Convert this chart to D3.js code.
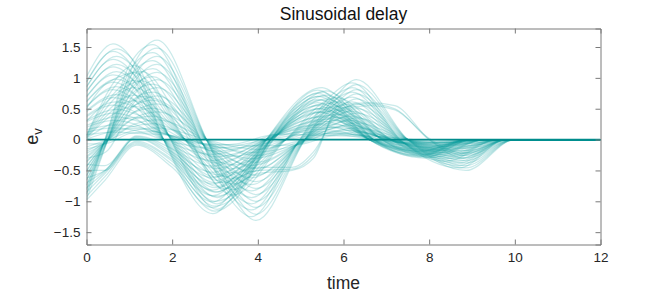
<!DOCTYPE html>
<html><head><meta charset="utf-8">
<script src="https://cdn.jsdelivr.net/npm/d3@7"></script>
<style>
html,body{margin:0;padding:0;background:#fff;}
svg{display:block;font-family:"Liberation Sans",Arial,Helvetica,sans-serif;}
</style></head>
<body>
<svg id="chart" width="664" height="294"></svg>
<script>
// ---- data ----
const xTicks = [0, 2, 4, 6, 8, 10, 12];
const yTicks = [-1.5, -1, -0.5, 0, 0.5, 1, 1.5];
const xDomain = [0, 12];
const yDomain = [-1.7, 1.8];

// family A: early peak (~0.62), nested arcs
const timesA = [0, 0.62, 1.12, 1.8, 2.95, 3.42, 4.2, 5.5, 5.84, 6.7, 7.9, 9.0, 12];
const seriesA = [
  [1.02, 1.55, 1.24, 0, -1.2, -0.92, 0, 0.84, 0.72, 0, -0.3, 0, 0],
  [0.94, 1.43, 1.14, 0, -1.10, -0.85, 0, 0.77, 0.66, 0, -0.28, 0, 0],
  [0.86, 1.30, 1.04, 0, -1.01, -0.77, 0, 0.71, 0.60, 0, -0.25, 0, 0],
  [0.78, 1.18, 0.94, 0, -0.91, -0.70, 0, 0.64, 0.55, 0, -0.23, 0, 0],
  [0.69, 1.05, 0.84, 0, -0.82, -0.63, 0, 0.57, 0.49, 0, -0.20, 0, 0],
  [0.61, 0.93, 0.74, 0, -0.72, -0.55, 0, 0.50, 0.43, 0, -0.18, 0, 0],
  [0.53, 0.81, 0.64, 0, -0.62, -0.48, 0, 0.44, 0.37, 0, -0.16, 0, 0],
  [0.45, 0.68, 0.55, 0, -0.53, -0.40, 0, 0.37, 0.32, 0, -0.13, 0, 0],
  [0.37, 0.56, 0.45, 0, -0.43, -0.33, 0, 0.30, 0.26, 0, -0.11, 0, 0],
  [0.29, 0.43, 0.35, 0, -0.34, -0.26, 0, 0.24, 0.20, 0, -0.08, 0, 0],
  [0.20, 0.31, 0.25, 0, -0.24, -0.18, 0, 0.17, 0.14, 0, -0.06, 0, 0],
  [0.12, 0.19, 0.15, 0, -0.14, -0.11, 0, 0.10, 0.09, 0, -0.04, 0, 0]
];

// family A2: slightly later phase than A
const timesA2 = [0, 0.7, 1.2, 1.95, 3.05, 3.5, 4.4, 5.6, 5.95, 6.85, 8.1, 9.3, 12];
const seriesA2 = [
  [0.93, 1.47, 1.19, 0.02, -1.13, -0.88, 0.03, 0.79, 0.68, 0.02, -0.29, 0, 0],
  [0.85, 1.35, 1.09, 0.02, -1.04, -0.81, 0.03, 0.72, 0.62, 0.02, -0.26, 0, 0],
  [0.78, 1.22, 0.99, 0.03, -0.94, -0.74, 0.04, 0.66, 0.57, 0.02, -0.24, 0, 0],
  [0.70, 1.10, 0.89, 0.03, -0.85, -0.66, 0.04, 0.59, 0.51, 0.03, -0.22, 0, 0],
  [0.62, 0.98, 0.79, 0.04, -0.76, -0.59, 0.05, 0.52, 0.45, 0.03, -0.19, 0, 0],
  [0.54, 0.86, 0.69, 0.04, -0.66, -0.52, 0.05, 0.46, 0.40, 0.03, -0.17, 0, 0],
  [0.47, 0.73, 0.60, 0.05, -0.57, -0.44, 0.06, 0.39, 0.34, 0.04, -0.14, 0, 0],
  [0.39, 0.61, 0.50, 0.05, -0.47, -0.37, 0.06, 0.33, 0.28, 0.04, -0.12, 0, 0],
  [0.31, 0.49, 0.40, 0.06, -0.38, -0.29, 0.07, 0.26, 0.23, 0.04, -0.10, 0, 0],
  [0.23, 0.37, 0.30, 0.06, -0.28, -0.22, 0.07, 0.20, 0.17, 0.05, -0.07, 0, 0],
  [0.16, 0.24, 0.20, 0.07, -0.19, -0.15, 0.08, 0.13, 0.11, 0.05, -0.05, 0, 0],
  [0.08, 0.12, 0.10, 0.07, -0.09, -0.07, 0.08, 0.07, 0.06, 0.05, -0.02, 0, 0]
];

// family B: late peak (~1.65)
const timesB = [0, 0.5, 1.12, 1.65, 2.8, 3.42, 3.96, 5.1, 5.84, 6.3, 7.5, 8.86, 10.0, 12];
const seriesB = [
  [-0.97, 0, 1.24, 1.61, 0, -0.92, -1.31, 0, 0.72, 0.97, 0, -0.5, 0, 0],
  [-0.89, 0, 1.14, 1.48, 0, -0.85, -1.21, 0, 0.66, 0.89, 0, -0.46, 0, 0],
  [-0.81, 0, 1.04, 1.35, 0, -0.77, -1.10, 0, 0.60, 0.81, 0, -0.42, 0, 0],
  [-0.74, 0, 0.94, 1.22, 0, -0.70, -1.00, 0, 0.55, 0.74, 0, -0.38, 0, 0],
  [-0.66, 0, 0.84, 1.09, 0, -0.63, -0.89, 0, 0.49, 0.66, 0, -0.34, 0, 0],
  [-0.58, 0, 0.74, 0.97, 0, -0.55, -0.79, 0, 0.43, 0.58, 0, -0.30, 0, 0],
  [-0.50, 0, 0.64, 0.84, 0, -0.48, -0.68, 0, 0.37, 0.50, 0, -0.26, 0, 0],
  [-0.43, 0, 0.55, 0.71, 0, -0.40, -0.58, 0, 0.32, 0.43, 0, -0.22, 0, 0],
  [-0.35, 0, 0.45, 0.58, 0, -0.33, -0.47, 0, 0.26, 0.35, 0, -0.18, 0, 0],
  [-0.27, 0, 0.35, 0.45, 0, -0.26, -0.37, 0, 0.20, 0.27, 0, -0.14, 0, 0],
  [-0.19, 0, 0.25, 0.32, 0, -0.18, -0.26, 0, 0.14, 0.19, 0, -0.10, 0, 0],
  [-0.12, 0, 0.15, 0.19, 0, -0.11, -0.16, 0, 0.09, 0.12, 0, -0.06, 0, 0]
];

// family B2: slightly earlier phase than B
const timesB2 = [0, 0.42, 1.02, 1.55, 2.68, 3.3, 3.85, 4.95, 5.72, 6.2, 7.35, 8.7, 9.8, 12];
const seriesB2 = [
  [-0.88, -0.02, 1.23, 1.54, -0.02, -0.91, -1.25, -0.03, 0.72, 0.92, -0.02, -0.46, 0, 0],
  [-0.81, -0.02, 1.13, 1.41, -0.02, -0.84, -1.14, -0.03, 0.66, 0.84, -0.02, -0.42, 0, 0],
  [-0.74, -0.03, 1.02, 1.28, -0.03, -0.76, -1.04, -0.04, 0.60, 0.77, -0.03, -0.38, 0, 0],
  [-0.66, -0.03, 0.92, 1.15, -0.03, -0.68, -0.94, -0.04, 0.54, 0.69, -0.03, -0.35, 0, 0],
  [-0.59, -0.04, 0.82, 1.02, -0.04, -0.61, -0.83, -0.05, 0.48, 0.61, -0.03, -0.31, 0, 0],
  [-0.52, -0.04, 0.72, 0.90, -0.04, -0.53, -0.73, -0.05, 0.42, 0.54, -0.04, -0.27, 0, 0],
  [-0.44, -0.05, 0.61, 0.77, -0.05, -0.46, -0.62, -0.06, 0.36, 0.46, -0.04, -0.23, 0, 0],
  [-0.37, -0.05, 0.51, 0.64, -0.05, -0.38, -0.52, -0.06, 0.30, 0.38, -0.04, -0.19, 0, 0],
  [-0.29, -0.06, 0.41, 0.51, -0.06, -0.30, -0.42, -0.07, 0.24, 0.31, -0.05, -0.15, 0, 0],
  [-0.22, -0.06, 0.31, 0.38, -0.06, -0.23, -0.31, -0.07, 0.18, 0.23, -0.05, -0.12, 0, 0],
  [-0.15, -0.07, 0.20, 0.26, -0.07, -0.15, -0.21, -0.08, 0.12, 0.15, -0.05, -0.08, 0, 0],
  [-0.07, -0.07, 0.10, 0.13, -0.07, -0.08, -0.10, -0.08, 0.06, 0.08, -0.05, -0.04, 0, 0]
];

// family M: intermediate phase (peaks at the crossing points)
const timesM = [0, 1.12, 2.3, 3.42, 4.65, 5.84, 7.1, 8.4, 9.6, 12];
const seriesM = [
  [0.07, 1.2, 0, -0.9, 0, 0.68, 0, -0.35, 0, 0],
  [0.07, 1.08, 0, -0.81, 0, 0.61, 0, -0.31, 0, 0],
  [0.06, 0.96, 0, -0.72, 0, 0.54, 0, -0.28, 0, 0],
  [0.05, 0.84, 0, -0.63, 0, 0.48, 0, -0.25, 0, 0],
  [0.04, 0.72, 0, -0.54, 0, 0.41, 0, -0.21, 0, 0],
  [0.03, 0.63, 0, -0.47, 0, 0.36, 0, -0.18, 0, 0],
  [0.03, 0.54, 0, -0.41, 0, 0.31, 0, -0.16, 0, 0],
  [0.02, 0.36, 0, -0.27, 0, 0.20, 0, -0.10, 0, 0],
  [0.01, 0.18, 0, -0.14, 0, 0.10, 0, -0.05, 0, 0]
];

// family E: lower-left curves rising slowly from a negative start
const timesE = [0, 0.43, 1.17, 2.0, 3.0, 3.5, 4.3, 5.4, 6.6, 7.8, 8.9, 12];
const seriesE = [
  [-0.98, -0.66, -0.09, -0.45, -1.16, -0.95, 0, 0.80, 0, -0.28, 0, 0],
  [-0.92, -0.60, -0.07, -0.40, -1.08, -0.90, 0, 0.75, 0, -0.26, 0, 0],
  [-0.85, -0.55, -0.05, -0.35, -1.00, -0.85, 0, 0.70, 0, -0.25, 0, 0],
  [-0.78, -0.52, -0.03, -0.32, -0.92, -0.78, 0, 0.65, 0, -0.22, 0, 0],
  [-0.70, -0.50, 0.02, -0.28, -0.85, -0.70, 0, 0.60, 0, -0.20, 0, 0],
  [-0.62, -0.50, 0.03, -0.24, -0.78, -0.65, 0, 0.55, 0, -0.19, 0, 0],
  [-0.50, -0.50, 0.05, -0.20, -0.70, -0.60, 0, 0.50, 0, -0.18, 0, 0],
  [-0.40, -0.42, 0.06, -0.15, -0.60, -0.50, 0, 0.45, 0, -0.15, 0, 0]
];

// family P: curves with a low band (~-0.5) then a plateau (~0.6)
const timesP = [0, 0.45, 1.3, 2.2, 3.2, 4.0, 4.8, 5.3, 5.9, 6.6, 7.2, 8.0, 8.8, 9.8, 12];
const seriesP = [
  [0.50, 0.90, 1.10, 0.30, -0.80, -0.55, -0.50, -0.30, 0.55, 0.60, 0.55, 0, -0.30, 0, 0],
  [0.30, 0.60, 0.95, 0.20, -0.70, -0.50, -0.48, -0.25, 0.50, 0.58, 0.50, 0, -0.25, 0, 0],
  [-0.30, -0.20, 0.70, 0.40, -0.60, -0.45, -0.45, -0.20, 0.45, 0.55, 0.48, 0.02, -0.22, 0, 0]
];

// flat zero response
const timesZ = [0, 12];
const seriesZ = [[0, 0]];

// ---- drawing ----
const L = 86.5, R = 600.5, T = 28.5, B = 244.5;
const svg = d3.select("#chart");
const x = d3.scaleLinear().domain(xDomain).range([L, R]);
const y = d3.scaleLinear().domain(yDomain).range([B, T]);

svg.append("defs").append("clipPath").attr("id", "clip")
  .append("rect").attr("x", L).attr("y", T).attr("width", R - L).attr("height", B - T);

const line = d3.line().x(d => x(d[0])).y(d => y(d[1])).curve(d3.curveMonotoneX);
const plot = svg.append("g").attr("clip-path", "url(#clip)");

function drawFamily(times, series) {
  series.forEach(vals => {
    plot.append("path")
      .attr("d", line(d3.zip(times, vals)))
      .attr("fill", "none")
      .attr("stroke", "rgb(15,158,158)")
      .attr("stroke-opacity", 0.22)
      .attr("stroke-width", 1.25);
  });
}
drawFamily(timesA, seriesA);
drawFamily(timesA2, seriesA2);
drawFamily(timesB, seriesB);
drawFamily(timesB2, seriesB2);
drawFamily(timesM, seriesM);
drawFamily(timesE, seriesE);
drawFamily(timesP, seriesP);

seriesZ.forEach(vals => {
  plot.append("path")
    .attr("d", line(d3.zip(timesZ, vals)))
    .attr("fill", "none")
    .attr("stroke", "rgb(0,140,140)")
    .attr("stroke-width", 1.6);
});

// axes (box with inward ticks on all sides)
const axisColor = "#7a7a7a";
const tickLen = 5;
const tickFont = 13.5;
const axes = svg.append("g");

const gBottom = axes.append("g").attr("transform", `translate(0,${B})`)
  .call(d3.axisBottom(x).tickValues(xTicks).tickSize(-tickLen).tickPadding(8).tickFormat(d3.format("d")));
const gTop = axes.append("g").attr("transform", `translate(0,${T})`)
  .call(d3.axisTop(x).tickValues(xTicks).tickSize(-tickLen).tickFormat(""));
const gLeft = axes.append("g").attr("transform", `translate(${L},0)`)
  .call(d3.axisLeft(y).tickValues(yTicks).tickSize(-tickLen).tickPadding(6).tickFormat(d => d3.format("")(d)));
const gRight = axes.append("g").attr("transform", `translate(${R},0)`)
  .call(d3.axisRight(y).tickValues(yTicks).tickSize(-tickLen).tickFormat(""));

[gBottom, gTop, gLeft, gRight].forEach(g => {
  g.select(".domain").attr("stroke", axisColor).attr("stroke-width", 1);
  g.selectAll(".tick line").attr("stroke", axisColor).attr("stroke-width", 1);
  g.selectAll(".tick text").attr("fill", "#262626").attr("font-size", tickFont)
    .attr("font-family", "'Liberation Sans', Arial, sans-serif");
});
[gBottom, gTop].forEach(g => g.selectAll(".tick").filter(d => d === 0 || d === 12).select("line").remove());

// title and labels
svg.append("text").attr("x", (L + R) / 2).attr("y", 20).attr("text-anchor", "middle")
  .attr("font-size", 17.5).attr("fill", "#111").text("Sinusoidal delay");
svg.append("text").attr("x", (L + R) / 2).attr("y", 289).attr("text-anchor", "middle")
  .attr("font-size", 17.5).attr("fill", "#262626").text("time");
const yl = svg.append("text").attr("transform", `translate(38,${(T + B) / 2}) rotate(-90)`)
  .attr("text-anchor", "middle").attr("font-size", 18).attr("fill", "#262626");
yl.append("tspan").text("e");
yl.append("tspan").attr("font-size", 13).attr("dy", 4).text("v");
</script>
</body></html>
